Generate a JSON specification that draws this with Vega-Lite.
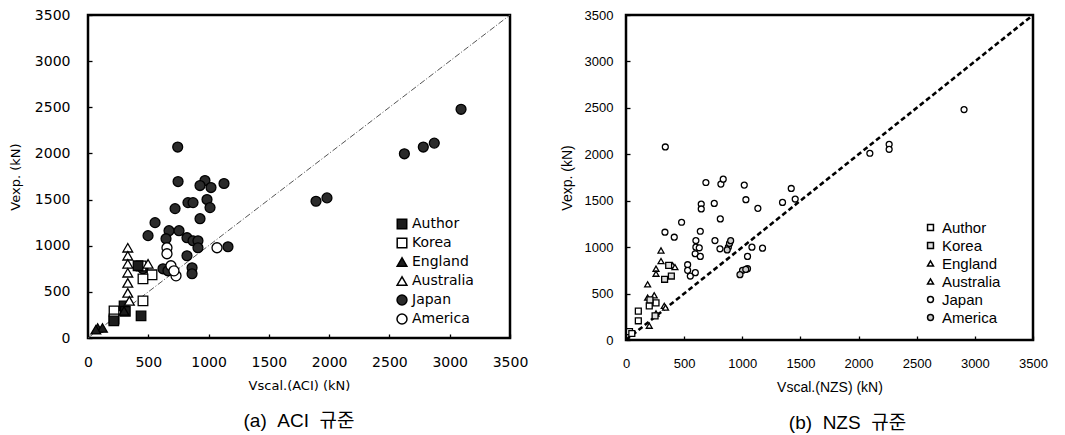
{
  "$schema": "https://vega.github.io/schema/vega-lite/v6.json",
  "background": "white",
  "padding": {"left": 8, "top": 6, "right": 5, "bottom": 2},
  "spacing": 28,
  "config": {
    "view": {"stroke": "black", "strokeWidth": 2.5},
    "axis": {"grid": false, "domain": false, "tickColor": "black", "tickWidth": 1.3, "tickSize": 4, "offset": -4, "labelColor": "black", "titleColor": "black", "labelFlush": false, "labelOverlap": false, "titleFontWeight": "normal"}
  },
  "datasets": {
    "diag": [{"x": 0, "y": 0}, {"x": 3500, "y": 3500}],
    "aci": [
      {"country": "Japan", "x": 744, "y": 2069},
      {"country": "Japan", "x": 747, "y": 1695},
      {"country": "Japan", "x": 970, "y": 1706},
      {"country": "Japan", "x": 929, "y": 1652},
      {"country": "Japan", "x": 1020, "y": 1630},
      {"country": "Japan", "x": 1128, "y": 1674},
      {"country": "Japan", "x": 829, "y": 1467},
      {"country": "Japan", "x": 871, "y": 1467},
      {"country": "Japan", "x": 987, "y": 1500},
      {"country": "Japan", "x": 1012, "y": 1413},
      {"country": "Japan", "x": 722, "y": 1402},
      {"country": "Japan", "x": 556, "y": 1250},
      {"country": "Japan", "x": 929, "y": 1293},
      {"country": "Japan", "x": 498, "y": 1109},
      {"country": "Japan", "x": 672, "y": 1163},
      {"country": "Japan", "x": 755, "y": 1163},
      {"country": "Japan", "x": 821, "y": 1087},
      {"country": "Japan", "x": 871, "y": 1054},
      {"country": "Japan", "x": 912, "y": 1054},
      {"country": "Japan", "x": 647, "y": 1076},
      {"country": "Japan", "x": 1161, "y": 989},
      {"country": "Japan", "x": 821, "y": 891},
      {"country": "Japan", "x": 912, "y": 978},
      {"country": "Japan", "x": 863, "y": 761},
      {"country": "Japan", "x": 863, "y": 696},
      {"country": "Japan", "x": 456, "y": 750},
      {"country": "Japan", "x": 622, "y": 750},
      {"country": "Japan", "x": 663, "y": 728},
      {"country": "Japan", "x": 1891, "y": 1482},
      {"country": "Japan", "x": 1982, "y": 1518},
      {"country": "Japan", "x": 2624, "y": 1996},
      {"country": "Japan", "x": 2781, "y": 2069},
      {"country": "Japan", "x": 2872, "y": 2112},
      {"country": "Japan", "x": 3094, "y": 2478},
      {"country": "America", "x": 1070, "y": 978},
      {"country": "America", "x": 655, "y": 978},
      {"country": "America", "x": 655, "y": 913},
      {"country": "America", "x": 688, "y": 783},
      {"country": "America", "x": 730, "y": 674},
      {"country": "America", "x": 713, "y": 728},
      {"country": "Korea", "x": 531, "y": 685},
      {"country": "Korea", "x": 456, "y": 641},
      {"country": "Korea", "x": 456, "y": 402},
      {"country": "Korea", "x": 216, "y": 293},
      {"country": "Korea", "x": 216, "y": 206},
      {"country": "Korea", "x": 440, "y": 780},
      {"country": "Author", "x": 440, "y": 239},
      {"country": "Author", "x": 299, "y": 348},
      {"country": "Author", "x": 310, "y": 290},
      {"country": "Author", "x": 214, "y": 185},
      {"country": "Author", "x": 415, "y": 783},
      {"country": "Australia", "x": 330, "y": 978},
      {"country": "Australia", "x": 330, "y": 891},
      {"country": "Australia", "x": 330, "y": 804},
      {"country": "Australia", "x": 330, "y": 707},
      {"country": "Australia", "x": 330, "y": 598},
      {"country": "Australia", "x": 330, "y": 489},
      {"country": "Australia", "x": 343, "y": 402},
      {"country": "Australia", "x": 498, "y": 804},
      {"country": "England", "x": 80, "y": 109},
      {"country": "England", "x": 120, "y": 109},
      {"country": "England", "x": 65, "y": 90},
      {"country": "England", "x": 299, "y": 293}
    ],
    "nzs": [
      {"country": "Japan", "x": 338, "y": 2079},
      {"country": "Japan", "x": 2097, "y": 2011},
      {"country": "Japan", "x": 2263, "y": 2107},
      {"country": "Japan", "x": 2263, "y": 2054},
      {"country": "Japan", "x": 2907, "y": 2482},
      {"country": "Japan", "x": 687, "y": 1696},
      {"country": "Japan", "x": 816, "y": 1679},
      {"country": "Japan", "x": 836, "y": 1732},
      {"country": "Japan", "x": 1017, "y": 1668},
      {"country": "Japan", "x": 1031, "y": 1511},
      {"country": "Japan", "x": 1134, "y": 1418},
      {"country": "Japan", "x": 1346, "y": 1482},
      {"country": "Japan", "x": 1421, "y": 1632},
      {"country": "Japan", "x": 1455, "y": 1518},
      {"country": "Japan", "x": 647, "y": 1464},
      {"country": "Japan", "x": 647, "y": 1411},
      {"country": "Japan", "x": 759, "y": 1471},
      {"country": "Japan", "x": 811, "y": 1304},
      {"country": "Japan", "x": 478, "y": 1268},
      {"country": "Japan", "x": 335, "y": 1161},
      {"country": "Japan", "x": 415, "y": 1107},
      {"country": "Japan", "x": 639, "y": 1171},
      {"country": "Japan", "x": 765, "y": 1071},
      {"country": "Japan", "x": 601, "y": 1071},
      {"country": "Japan", "x": 601, "y": 1000},
      {"country": "Japan", "x": 595, "y": 929},
      {"country": "Japan", "x": 630, "y": 993},
      {"country": "Japan", "x": 639, "y": 900},
      {"country": "Japan", "x": 808, "y": 982},
      {"country": "Japan", "x": 1083, "y": 1000},
      {"country": "Japan", "x": 1174, "y": 989},
      {"country": "Japan", "x": 1045, "y": 900},
      {"country": "Japan", "x": 530, "y": 811},
      {"country": "Japan", "x": 530, "y": 750},
      {"country": "Japan", "x": 553, "y": 689},
      {"country": "Japan", "x": 596, "y": 725},
      {"country": "America", "x": 880, "y": 1000},
      {"country": "America", "x": 890, "y": 1040},
      {"country": "America", "x": 900, "y": 1070},
      {"country": "America", "x": 870, "y": 970},
      {"country": "America", "x": 1002, "y": 750},
      {"country": "America", "x": 1045, "y": 768},
      {"country": "America", "x": 980, "y": 704},
      {"country": "America", "x": 1030, "y": 760},
      {"country": "England", "x": 301, "y": 964},
      {"country": "England", "x": 301, "y": 850},
      {"country": "England", "x": 186, "y": 600},
      {"country": "England", "x": 258, "y": 768},
      {"country": "England", "x": 258, "y": 714},
      {"country": "England", "x": 200, "y": 154},
      {"country": "England", "x": 329, "y": 368},
      {"country": "Australia", "x": 186, "y": 457},
      {"country": "Australia", "x": 243, "y": 482},
      {"country": "Australia", "x": 401, "y": 804},
      {"country": "Australia", "x": 421, "y": 786},
      {"country": "Australia", "x": 258, "y": 286},
      {"country": "Australia", "x": 340, "y": 350},
      {"country": "Author", "x": 106, "y": 311},
      {"country": "Author", "x": 106, "y": 207},
      {"country": "Author", "x": 200, "y": 368},
      {"country": "Author", "x": 258, "y": 400},
      {"country": "Author", "x": 30, "y": 90},
      {"country": "Author", "x": 50, "y": 70},
      {"country": "Korea", "x": 332, "y": 654},
      {"country": "Korea", "x": 390, "y": 689},
      {"country": "Korea", "x": 367, "y": 804},
      {"country": "Korea", "x": 206, "y": 432},
      {"country": "Korea", "x": 250, "y": 260}
    ]
  },
  "hconcat": [
    {
      "width": 422,
      "height": 323,
      "title": {"text": "(a)\u00a0\u00a0ACI\u00a0\u00a0규준", "orient": "bottom", "anchor": "middle", "font": "Liberation Sans, Noto Sans CJK KR", "fontSize": 19, "fontWeight": "normal", "color": "black", "offset": 20},
      "layer": [
        {
          "data": {"name": "diag"},
          "mark": {"type": "line", "color": "#555555", "strokeWidth": 1, "strokeDash": [6, 2, 1, 2]},
          "encoding": {
            "x": {"field": "x", "type": "quantitative", "scale": {"domain": [0, 3500], "nice": false},
              "axis": {"values": [0,250,500,750,1000,1250,1500,1750,2000,2250,2500,2750,3000,3250,3500], "labelExpr": "datum.value % 500 === 0 ? datum.label : ''", "format": "d", "labelPadding": 17, "labelFont": "DejaVu Sans", "labelFontSize": 14, "title": "Vscal.(ACI) (kN)", "titleFont": "DejaVu Sans", "titleFontSize": 13, "titlePadding": 10}},
            "y": {"field": "y", "type": "quantitative", "scale": {"domain": [0, 3500], "nice": false},
              "axis": {"values": [0,250,500,750,1000,1250,1500,1750,2000,2250,2500,2750,3000,3250,3500], "labelExpr": "datum.value % 500 === 0 ? datum.label : ''", "format": "d", "labelPadding": 18, "labelFont": "DejaVu Sans", "labelFontSize": 14, "title": "Vexp. (kN)", "titleFont": "DejaVu Sans", "titleFontSize": 13, "titlePadding": 12}}
          }
        },
        {
          "data": {"name": "aci"},
          "mark": {"type": "point", "filled": true, "stroke": "black", "strokeWidth": 1.3, "opacity": 1},
          "encoding": {
            "x": {"field": "x", "type": "quantitative"},
            "y": {"field": "y", "type": "quantitative"},
            "shape": {"field": "country", "type": "nominal",
              "scale": {"domain": ["Author", "Korea", "England", "Australia", "Japan", "America"], "range": ["square", "square", "triangle-up", "triangle-up", "circle", "circle"]},
              "legend": {"orient": "none", "legendX": 307, "legendY": 202, "title": null, "labelFont": "DejaVu Sans", "labelFontSize": 14, "labelColor": "black", "rowPadding": 3, "labelOffset": 3, "symbolOpacity": 1, "encode": {"symbols": {"update": {"stroke": {"value": "black"}, "strokeWidth": {"value": 1.3}}}}}},
            "fill": {"field": "country", "type": "nominal",
              "scale": {"domain": ["Author", "Korea", "England", "Australia", "Japan", "America"], "range": ["#1c1c1c", "#ffffff", "#1c1c1c", "#ffffff", "#2b2b2b", "#ffffff"]},
              "legend": {"orient": "none", "legendX": 307, "legendY": 202, "title": null, "labelFont": "DejaVu Sans", "labelFontSize": 14, "labelColor": "black", "rowPadding": 3, "labelOffset": 3, "symbolOpacity": 1, "encode": {"symbols": {"update": {"stroke": {"value": "black"}, "strokeWidth": {"value": 1.3}}}}}},
            "size": {"field": "country", "type": "nominal",
              "scale": {"domain": ["Author", "Korea", "England", "Australia", "Japan", "America"], "range": [90, 100, 90, 100, 110, 70]},
              "legend": {"orient": "none", "legendX": 307, "legendY": 202, "title": null, "labelFont": "DejaVu Sans", "labelFontSize": 14, "labelColor": "black", "rowPadding": 3, "labelOffset": 3, "symbolOpacity": 1, "encode": {"symbols": {"update": {"stroke": {"value": "black"}, "strokeWidth": {"value": 1.3}}}}}}
          }
        }
      ]
    },
    {
      "width": 407,
      "height": 325,
      "title": {"text": "(b)\u00a0\u00a0NZS\u00a0\u00a0규준", "orient": "bottom", "anchor": "middle", "font": "Liberation Sans, Noto Sans CJK KR", "fontSize": 19, "fontWeight": "normal", "color": "black", "offset": 20, "dx": 18},
      "layer": [
        {
          "data": {"name": "diag"},
          "mark": {"type": "line", "color": "black", "strokeWidth": 2.6, "strokeDash": [5, 3]},
          "encoding": {
            "x": {"field": "x", "type": "quantitative", "scale": {"domain": [0, 3500], "nice": false},
              "axis": {"values": [0,250,500,750,1000,1250,1500,1750,2000,2250,2500,2750,3000,3250,3500], "labelExpr": "datum.value % 500 === 0 ? datum.label : ''", "format": "d", "labelPadding": 17, "labelFont": "Liberation Sans", "labelFontSize": 13, "title": "Vscal.(NZS) (kN)", "titleFont": "Liberation Sans", "titleFontSize": 14, "titlePadding": 10}},
            "y": {"field": "y", "type": "quantitative", "scale": {"domain": [0, 3500], "nice": false},
              "axis": {"values": [0,250,500,750,1000,1250,1500,1750,2000,2250,2500,2750,3000,3250,3500], "labelExpr": "datum.value % 500 === 0 ? datum.label : ''", "format": "d", "labelPadding": 13, "labelFont": "Liberation Sans", "labelFontSize": 13, "title": "Vexp. (kN)", "titleFont": "Liberation Sans", "titleFontSize": 14, "titlePadding": 10}}
          }
        },
        {
          "data": {"name": "nzs"},
          "mark": {"type": "point", "filled": true, "stroke": "black", "strokeWidth": 1.3, "opacity": 1},
          "encoding": {
            "x": {"field": "x", "type": "quantitative"},
            "y": {"field": "y", "type": "quantitative"},
            "shape": {"field": "country", "type": "nominal",
              "scale": {"domain": ["Author", "Korea", "England", "Australia", "Japan", "America"], "range": ["square", "square", "triangle-up", "triangle-up", "circle", "circle"]},
              "legend": {"orient": "none", "legendX": 297, "legendY": 205, "title": null, "labelFont": "Liberation Sans", "labelFontSize": 15, "labelColor": "black", "rowPadding": 2, "labelOffset": 4, "symbolOpacity": 1, "encode": {"symbols": {"update": {"stroke": {"value": "black"}, "strokeWidth": {"value": 1.3}}}}}},
            "fill": {"field": "country", "type": "nominal",
              "scale": {"domain": ["Author", "Korea", "England", "Australia", "Japan", "America"], "range": ["#ffffff", "#dddddd", "#ffffff", "#ffffff", "#ffffff", "#cccccc"]},
              "legend": {"orient": "none", "legendX": 297, "legendY": 205, "title": null, "labelFont": "Liberation Sans", "labelFontSize": 15, "labelColor": "black", "rowPadding": 2, "labelOffset": 4, "symbolOpacity": 1, "encode": {"symbols": {"update": {"stroke": {"value": "black"}, "strokeWidth": {"value": 1.3}}}}}},
            "size": {"field": "country", "type": "nominal",
              "scale": {"domain": ["Author", "Korea", "England", "Australia", "Japan", "America"], "range": [35, 35, 35, 35, 40, 40]},
              "legend": {"orient": "none", "legendX": 297, "legendY": 205, "title": null, "labelFont": "Liberation Sans", "labelFontSize": 15, "labelColor": "black", "rowPadding": 2, "labelOffset": 4, "symbolOpacity": 1, "encode": {"symbols": {"update": {"stroke": {"value": "black"}, "strokeWidth": {"value": 1.3}}}}}}
          }
        }
      ]
    }
  ],
  "resolve": {
    "scale": {"x": "independent", "y": "independent", "shape": "independent", "fill": "independent", "size": "independent"},
    "legend": {"shape": "independent", "fill": "independent", "size": "independent"}
  }
}
